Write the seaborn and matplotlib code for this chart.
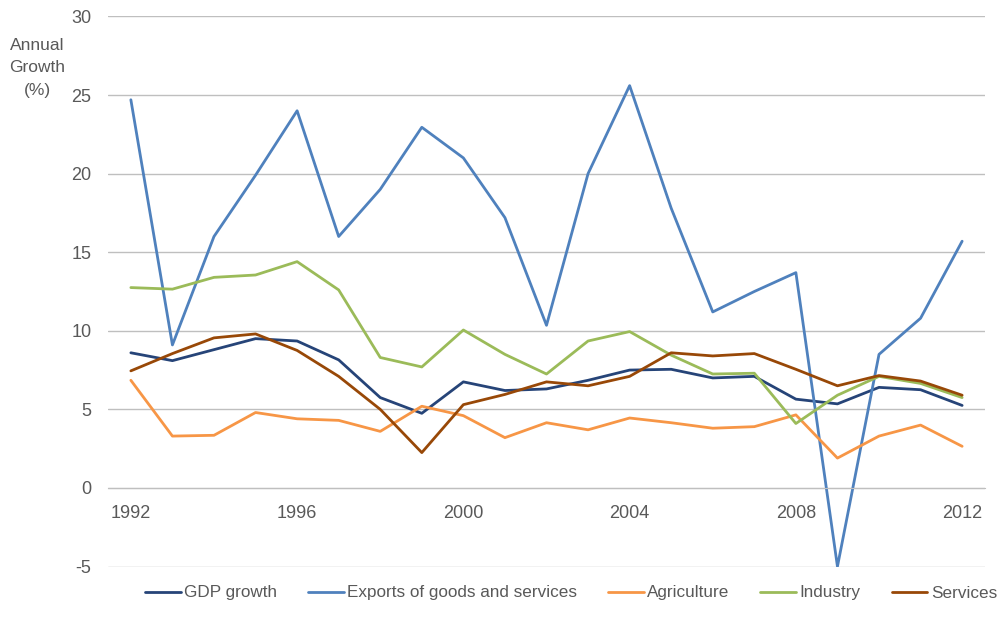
import numpy as np
import pandas as pd
import seaborn as sns
import matplotlib.pyplot as plt

# ---------------------------------- data
years = list(range(1992, 2013))
gdp_growth = [8.6, 8.1, 8.8, 9.5, 9.35, 8.15, 5.75, 4.75, 6.75, 6.2, 6.3,
              6.85, 7.5, 7.55, 7.0, 7.1, 5.65, 5.35, 6.4, 6.25, 5.25]
exports = [24.7, 9.1, 16.0, 19.9, 24.0, 16.0, 19.0, 22.95, 21.0, 17.2, 10.35,
           20.0, 25.6, 17.8, 11.2, 12.5, 13.7, -5.0, 8.5, 10.8, 15.7]
agriculture = [6.85, 3.3, 3.35, 4.8, 4.4, 4.3, 3.6, 5.2, 4.6, 3.2, 4.15,
               3.7, 4.45, 4.15, 3.8, 3.9, 4.65, 1.9, 3.3, 4.0, 2.65]
industry = [12.75, 12.65, 13.4, 13.55, 14.4, 12.6, 8.3, 7.7, 10.05, 8.5, 7.25,
            9.35, 9.95, 8.45, 7.25, 7.3, 4.1, 5.9, 7.1, 6.65, 5.75]
services = [7.45, 8.55, 9.55, 9.8, 8.75, 7.1, 5.0, 2.25, 5.3, 5.95, 6.75,
            6.5, 7.1, 8.6, 8.4, 8.55, 7.55, 6.5, 7.15, 6.8, 5.9]

series_names = ["GDP growth", "Exports of goods and services", "Agriculture",
                "Industry", "Services"]
colors = ["#264478", "#4F81BD", "#F79646", "#9BBB59", "#984807"]

df = pd.DataFrame({"Year": years, series_names[0]: gdp_growth,
                   series_names[1]: exports, series_names[2]: agriculture,
                   series_names[3]: industry, series_names[4]: services})
long_df = df.melt(id_vars="Year", var_name="Series", value_name="Growth")

# ---------------------------------- plot
sns.set_style("white")
plt.rcParams['font.family'] = ['Liberation Sans', 'DejaVu Sans']
plt.rcParams['axes.unicode_minus'] = False

fig = plt.figure(figsize=(10.01, 6.17), dpi=100)
ax = fig.add_axes([108 / 1001, 1 - 567 / 617, (985 - 108) / 1001, (567 - 16) / 617])

sns.lineplot(data=long_df, x="Year", y="Growth", hue="Series",
             hue_order=series_names, palette=colors, linewidth=2.0, ax=ax)

ax.set_ylim(-5.03, 30.03)
ax.set_xlim(1991.45, 2012.55)
ax.set_yticks(np.arange(-5, 31, 5))
ax.set_xticks([1992, 1996, 2000, 2004, 2008, 2012])
ax.grid(axis="y", color="#BFBFBF", linewidth=1.0)
ax.set_axisbelow(True)
for side in ["top", "right", "left"]:
    ax.spines[side].set_visible(False)
ax.spines["bottom"].set_position(("data", 0))
ax.spines["bottom"].set_color("#BFBFBF")
ax.tick_params(axis="both", length=0, labelsize=13, colors="#595959")
ax.tick_params(axis="y", pad=12)
ax.tick_params(axis="x", pad=12)
ax.set_xlabel("")
ax.set_ylabel("")

fig.text(37 / 1001, 1 - 68 / 617, "Annual\nGrowth\n(%)", ha="center", va="center",
         fontsize=12.5, color="#595959", linespacing=1.6)

handles, labels = ax.get_legend_handles_labels()
ax.legend(handles, labels, loc="center", bbox_to_anchor=(0.528, -26 / 551),
          ncol=5, frameon=False, fontsize=12.3, labelcolor="#595959",
          handlelength=2.1, handletextpad=0.2, columnspacing=1.8)

fig.savefig("out.png", dpi=100)
